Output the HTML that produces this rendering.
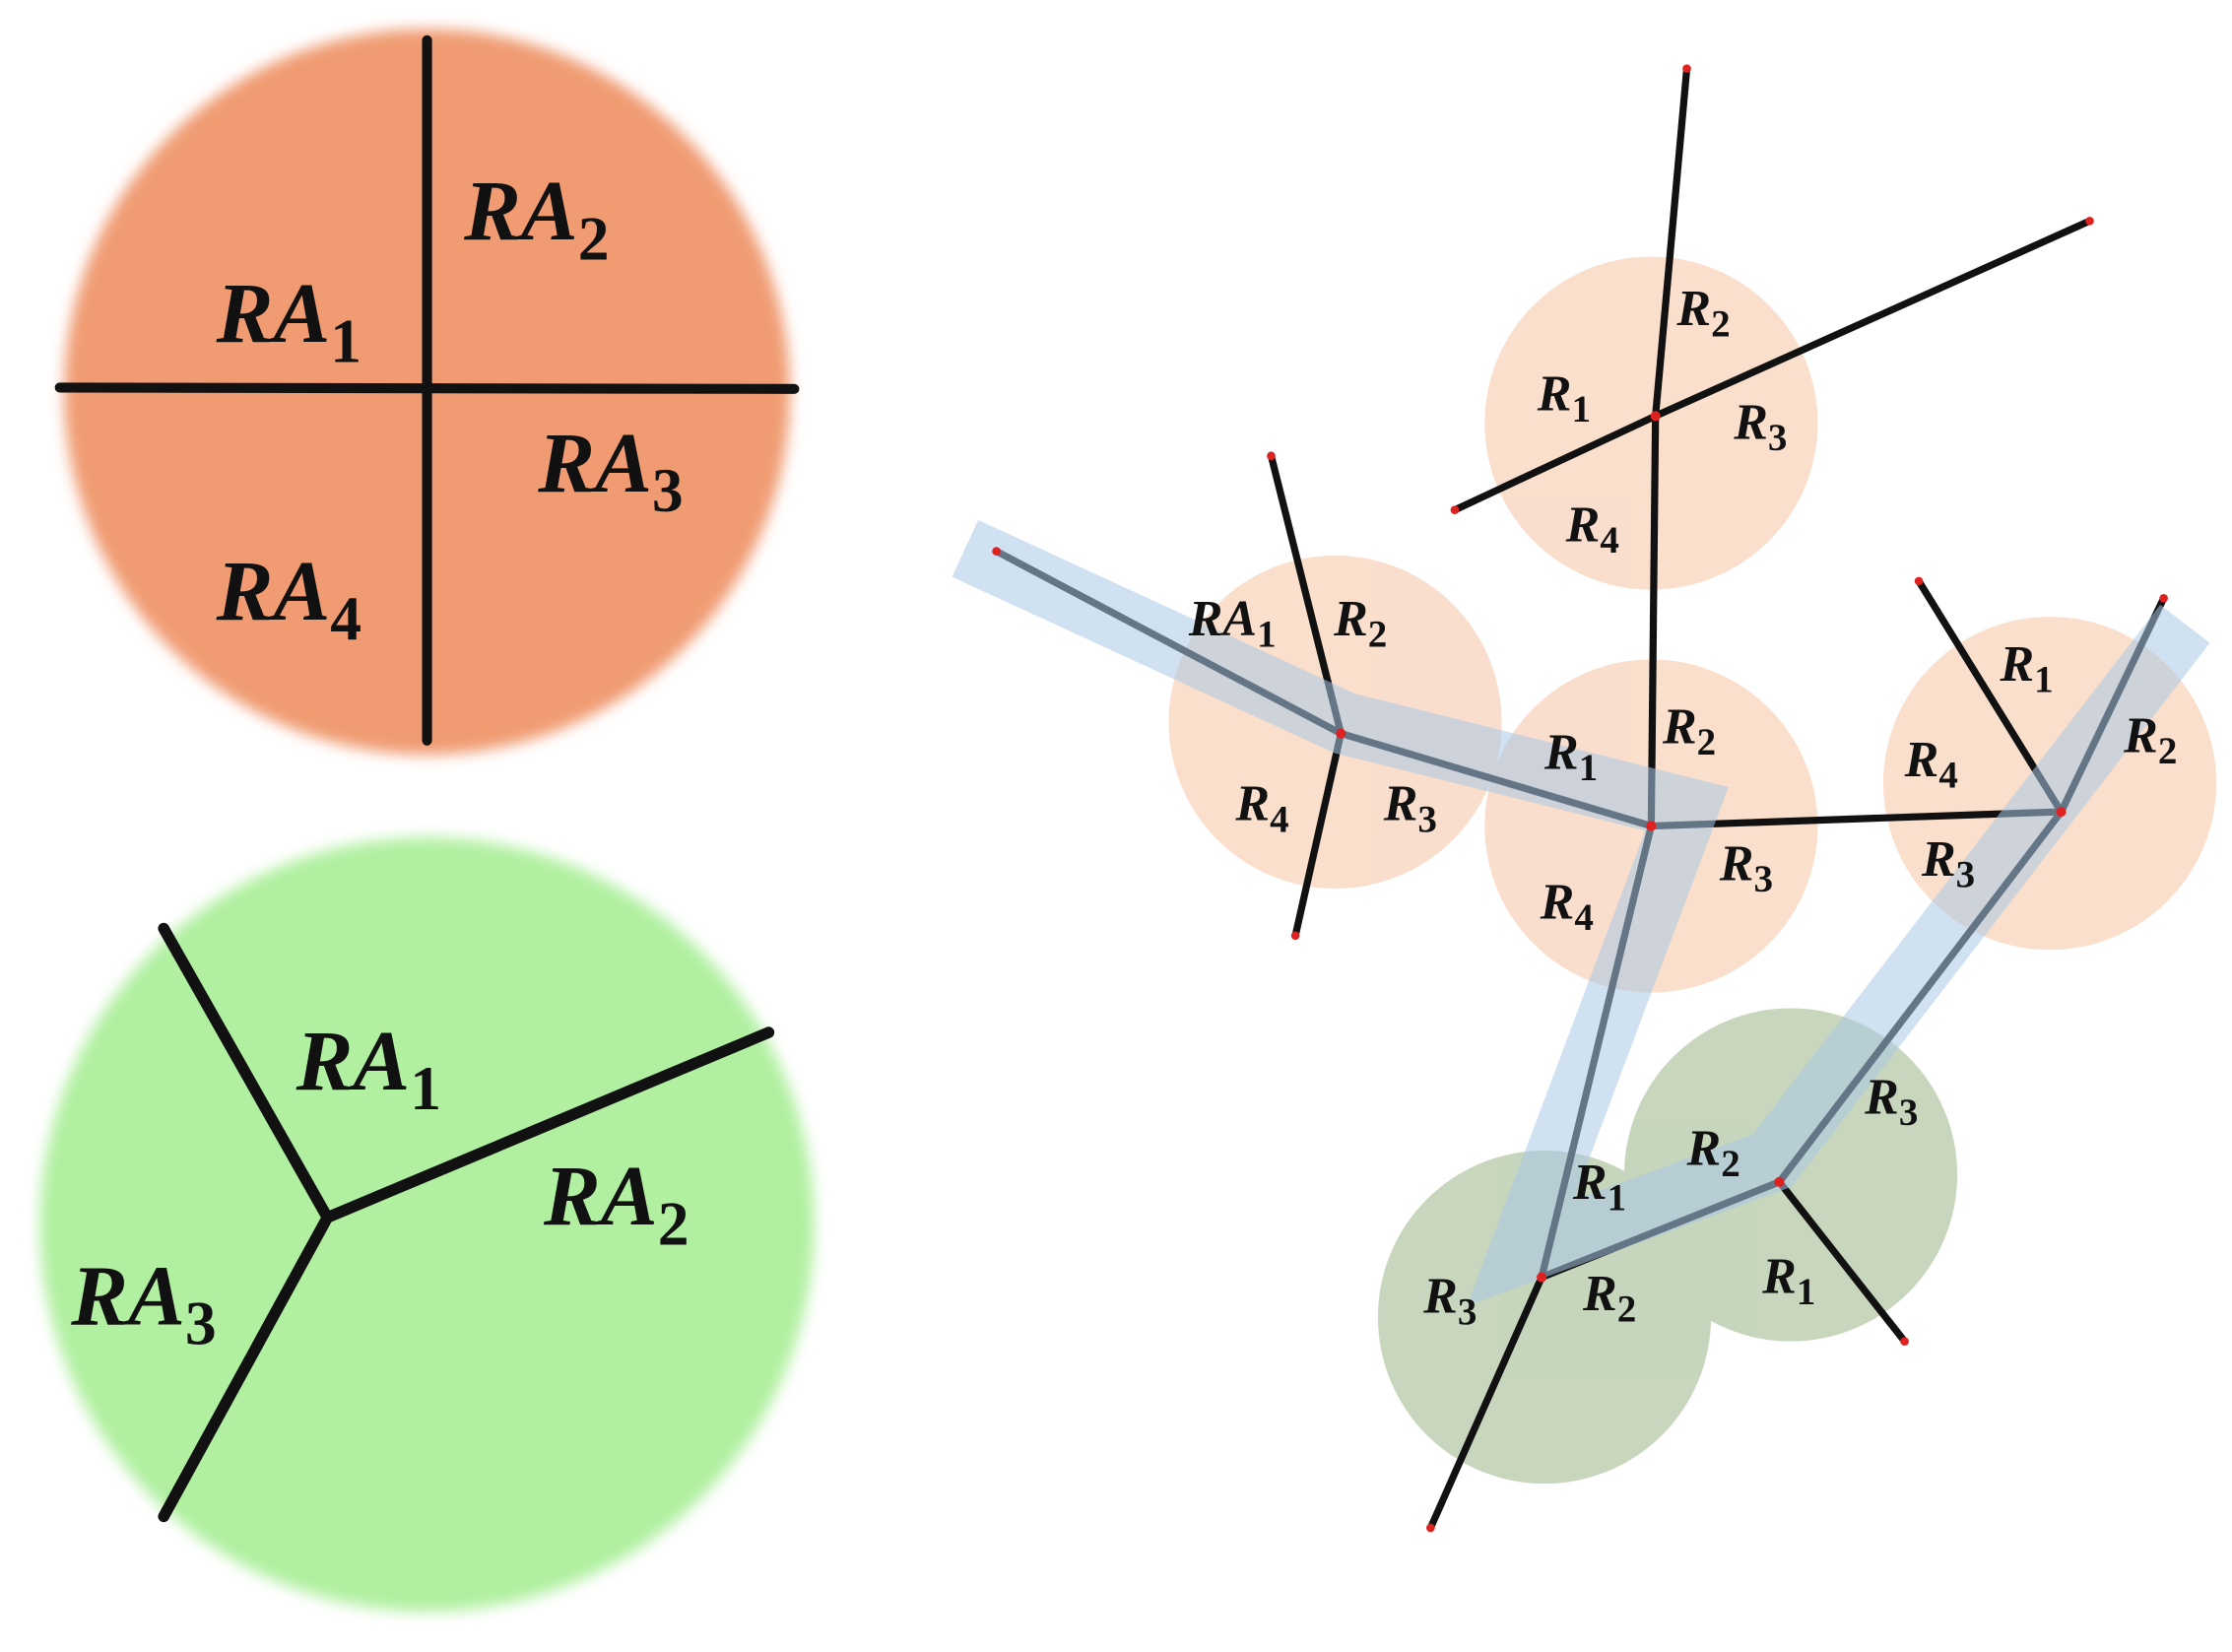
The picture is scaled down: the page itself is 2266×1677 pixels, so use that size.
<!DOCTYPE html>
<html><head><meta charset="utf-8"><style>
html,body{margin:0;padding:0;background:#fff;}
svg{display:block;}
text{font-family:"Liberation Serif",serif;font-weight:bold;font-style:italic;fill:#111;}
tspan.s{font-style:normal;}
</style></head><body>
<svg width="2266" height="1677" viewBox="0 0 1568 1160" xmlns="http://www.w3.org/2000/svg">
<defs>
<filter id="blur" x="-10%" y="-10%" width="120%" height="120%"><feGaussianBlur stdDeviation="5"/></filter>
</defs>
<circle cx="300" cy="275" r="255" fill="#f09b72" filter="url(#blur)"/>
<g stroke="#111" stroke-width="7" stroke-linecap="round">
<line x1="300" y1="28" x2="300" y2="520"/>
<line x1="42" y1="272" x2="558" y2="273"/>
</g>
<g font-size="60">
<text x="326" y="168">RA<tspan class="s" font-size="44" dy="14">2</tspan></text>
<text x="152" y="240">RA<tspan class="s" font-size="44" dy="14">1</tspan></text>
<text x="378" y="345">RA<tspan class="s" font-size="44" dy="14">3</tspan></text>
<text x="152" y="435">RA<tspan class="s" font-size="44" dy="14">4</tspan></text>
</g>
<circle cx="300" cy="860" r="272" fill="#b0f0a0" filter="url(#blur)"/>
<g stroke="#111" stroke-width="8" stroke-linecap="round" fill="none">
<line x1="115" y1="652" x2="230" y2="855"/>
<line x1="230" y1="855" x2="540" y2="725"/>
<line x1="230" y1="855" x2="115" y2="1065"/>
</g>
<g font-size="60">
<text x="208" y="765">RA<tspan class="s" font-size="44" dy="14">1</tspan></text>
<text x="382" y="860">RA<tspan class="s" font-size="44" dy="14">2</tspan></text>
<text x="50" y="930">RA<tspan class="s" font-size="44" dy="14">3</tspan></text>
</g>
<g fill="#f6c9ac" opacity="0.6">
<circle cx="1160" cy="297" r="117"/>
<circle cx="938" cy="507" r="117"/>
<circle cx="1160" cy="580" r="117"/>
<circle cx="1440" cy="550" r="117"/>
</g>
<g fill="#8fae7c" opacity="0.5">
<circle cx="1085" cy="925" r="117"/>
<circle cx="1258" cy="825" r="117"/>
</g>
<g stroke="#111" stroke-width="5" stroke-linecap="round">
<line x1="1163" y1="292" x2="1185" y2="48"/>
<line x1="1163" y1="292" x2="1468" y2="155"/>
<line x1="1163" y1="292" x2="1022" y2="358"/>
<line x1="1163" y1="292" x2="1160" y2="580"/>
<line x1="942" y1="515" x2="893" y2="320"/>
<line x1="942" y1="515" x2="700" y2="387"/>
<line x1="942" y1="515" x2="910" y2="657"/>
<line x1="942" y1="515" x2="1160" y2="580"/>
<line x1="1160" y1="580" x2="1448" y2="570"/>
<line x1="1448" y1="570" x2="1348" y2="408"/>
<line x1="1448" y1="570" x2="1520" y2="420"/>
<line x1="1448" y1="570" x2="1250" y2="830"/>
<line x1="1160" y1="580" x2="1083" y2="897"/>
<line x1="1083" y1="897" x2="1250" y2="830"/>
<line x1="1083" y1="897" x2="1005" y2="1073"/>
<line x1="1250" y1="830" x2="1338" y2="942"/>
</g>
<polyline points="678,385 945,508 1185,568 1068,880 1245,815 1535,438" fill="none" stroke="#a9c9e6" stroke-width="44" stroke-linejoin="miter" opacity="0.55"/>
<g fill="#d22">
<circle cx="1163" cy="292" r="3.5"/><circle cx="942" cy="515" r="3.5"/><circle cx="1160" cy="580" r="3.5"/>
<circle cx="1448" cy="570" r="3.5"/><circle cx="1083" cy="897" r="3.5"/><circle cx="1250" cy="830" r="3.5"/>
<circle cx="1185" cy="48" r="3"/><circle cx="1468" cy="155" r="3"/><circle cx="1022" cy="358" r="3"/>
<circle cx="893" cy="320" r="3"/><circle cx="700" cy="387" r="3"/><circle cx="910" cy="657" r="3"/>
<circle cx="1348" cy="408" r="3"/><circle cx="1520" cy="420" r="3"/><circle cx="1005" cy="1073" r="3"/>
<circle cx="1338" cy="942" r="3"/>
</g>
<g font-size="36">
<text x="1178" y="228">R<tspan class="s" font-size="27" dy="8">2</tspan></text>
<text x="1080" y="288">R<tspan class="s" font-size="27" dy="8">1</tspan></text>
<text x="1218" y="308">R<tspan class="s" font-size="27" dy="8">3</tspan></text>
<text x="1100" y="380">R<tspan class="s" font-size="27" dy="8">4</tspan></text>
<text x="835" y="446">RA<tspan class="s" font-size="27" dy="8">1</tspan></text>
<text x="937" y="446">R<tspan class="s" font-size="27" dy="8">2</tspan></text>
<text x="868" y="576">R<tspan class="s" font-size="27" dy="8">4</tspan></text>
<text x="972" y="576">R<tspan class="s" font-size="27" dy="8">3</tspan></text>
<text x="1168" y="522">R<tspan class="s" font-size="27" dy="8">2</tspan></text>
<text x="1085" y="540">R<tspan class="s" font-size="27" dy="8">1</tspan></text>
<text x="1208" y="618">R<tspan class="s" font-size="27" dy="8">3</tspan></text>
<text x="1082" y="645">R<tspan class="s" font-size="27" dy="8">4</tspan></text>
<text x="1405" y="478">R<tspan class="s" font-size="27" dy="8">1</tspan></text>
<text x="1492" y="528">R<tspan class="s" font-size="27" dy="8">2</tspan></text>
<text x="1338" y="545">R<tspan class="s" font-size="27" dy="8">4</tspan></text>
<text x="1350" y="615">R<tspan class="s" font-size="27" dy="8">3</tspan></text>
<text x="1310" y="782">R<tspan class="s" font-size="27" dy="8">3</tspan></text>
<text x="1185" y="818">R<tspan class="s" font-size="27" dy="8">2</tspan></text>
<text x="1105" y="842">R<tspan class="s" font-size="27" dy="8">1</tspan></text>
<text x="1238" y="908">R<tspan class="s" font-size="27" dy="8">1</tspan></text>
<text x="1000" y="922">R<tspan class="s" font-size="27" dy="8">3</tspan></text>
<text x="1112" y="920">R<tspan class="s" font-size="27" dy="8">2</tspan></text>
</g>
</svg>
</body></html>
